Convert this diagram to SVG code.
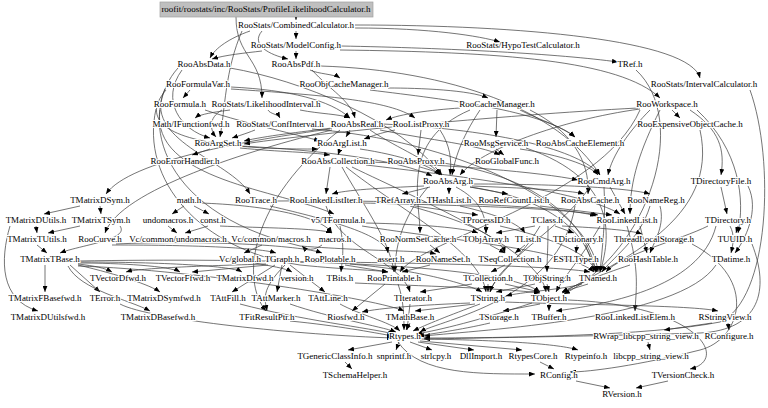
<svg xmlns="http://www.w3.org/2000/svg" width="768" height="408" viewBox="0 0 768 408">
<style>
.e{fill:none;stroke:#3a3a3a;stroke-width:0.7;marker-end:url(#ah)}
text{font-family:"Liberation Serif","Times New Roman",serif;font-size:9px;text-anchor:middle;fill:#000;paint-order:stroke;stroke:#fff;stroke-width:2.2px;stroke-linejoin:round}
#root text{stroke:none}
</style>
<defs>
<marker id="ah" viewBox="0 0 10 8" refX="10" refY="4" markerWidth="6" markerHeight="5" markerUnits="userSpaceOnUse" orient="auto"><path d="M0,0 L10,4 L0,8 z" fill="#000"/></marker>
</defs>
<rect width="768" height="408" fill="#fff"/>
<g id="edges">
<path class="e" d="M296,17 L296,20"/>
<path class="e" d="M236,17 C236,57 262,57 262,98"/>
<path class="e" d="M296,31 L296,39"/>
<path class="e" d="M355,28 C430,28 480,36 500,42"/>
<path class="e" d="M355,25 C520,25 690,40 700,78"/>
<path class="e" d="M262,31 C250,45 270,55 288,59"/>
<path class="e" d="M250,31 C230,38 215,48 210,58"/>
<path class="e" d="M242,31 C225,70 225,110 220,137"/>
<path class="e" d="M262,51 C245,53 225,55 212,59"/>
<path class="e" d="M296,51 L296,59"/>
<path class="e" d="M340,50 C500,52 620,60 660,98"/>
<path class="e" d="M340,46 C450,48 560,54 618,62"/>
<path class="e" d="M312,70 C330,90 350,100 355,118"/>
<path class="e" d="M310,70 C318,74 334,74 340,78"/>
<path class="e" d="M320,66 C450,70 560,110 600,175"/>
<path class="e" d="M230,68 C300,80 400,120 442,175"/>
<path class="e" d="M178,68 C140,110 150,210 300,246 C380,252 420,250 436,254"/>
<path class="e" d="M182,70 C160,100 180,130 210,138"/>
<path class="e" d="M268,110 C270,114 278,114 280,118"/>
<path class="e" d="M230,110 C215,112 200,114 195,118"/>
<path class="e" d="M300,110 C320,114 340,114 350,118"/>
<path class="e" d="M222,110 C208,118 210,130 216,137"/>
<path class="e" d="M255,130 C245,134 238,136 232,138"/>
<path class="e" d="M312,129 C450,140 590,200 598,272"/>
<path class="e" d="M750,90 C775,160 770,300 720,322 C650,336 500,338 424,338"/>
<path class="e" d="M388,88 C420,88 470,90 488,98"/>
<path class="e" d="M370,90 C450,100 540,110 575,137"/>
<path class="e" d="M497,110 L496,137"/>
<path class="e" d="M470,110 C400,140 420,200 420,233"/>
<path class="e" d="M460,108 C430,110 400,114 386,120"/>
<path class="e" d="M530,110 C570,130 590,160 588,194"/>
<path class="e" d="M520,110 C540,120 565,128 575,137"/>
<path class="e" d="M480,110 C460,140 455,160 452,175"/>
<path class="e" d="M370,130 C400,150 430,160 440,175"/>
<path class="e" d="M383,124 C500,130 580,150 600,175"/>
<path class="e" d="M332,130 C250,150 120,190 105,233"/>
<path class="e" d="M332,128 C300,132 265,136 244,141"/>
<path class="e" d="M350,130 L346,137"/>
<path class="e" d="M380,130 C430,140 480,145 500,155"/>
<path class="e" d="M330,129 C250,140 130,160 106,194"/>
<path class="e" d="M340,130 C250,200 240,280 266,311"/>
<path class="e" d="M231,87 C290,90 330,100 350,118"/>
<path class="e" d="M190,90 L183,98"/>
<path class="e" d="M166,90 C140,120 160,150 318,149"/>
<path class="e" d="M165,89 C140,140 230,160 250,194"/>
<path class="e" d="M231,89 C320,95 390,100 415,118"/>
<path class="e" d="M156,109 C140,180 200,250 300,265 C350,270 375,270 388,272"/>
<path class="e" d="M205,110 C250,125 300,135 320,141"/>
<path class="e" d="M160,110 C150,180 280,190 334,214"/>
<path class="e" d="M640,110 C600,200 420,240 400,272"/>
<path class="e" d="M638,108 C500,115 300,135 244,144"/>
<path class="e" d="M660,110 C640,150 630,180 630,214"/>
<path class="e" d="M650,110 C630,130 612,155 608,175"/>
<path class="e" d="M672,110 L680,118"/>
<path class="e" d="M697,110 C740,150 745,200 738,233"/>
<path class="e" d="M690,110 C720,130 725,150 721,175"/>
<path class="e" d="M640,109 C560,120 480,150 460,175"/>
<path class="e" d="M700,130 C720,220 620,260 562,293"/>
<path class="e" d="M636,70 C690,120 650,250 564,294"/>
<path class="e" d="M395,130 C380,133 372,136 364,139"/>
<path class="e" d="M421,130 L418,155"/>
<path class="e" d="M440,130 C450,145 452,160 450,175"/>
<path class="e" d="M240,148 C280,152 310,152 330,155"/>
<path class="e" d="M210,149 L192,155"/>
<path class="e" d="M240,146 C320,150 400,160 432,176"/>
<path class="e" d="M340,149 L338,155"/>
<path class="e" d="M360,149 C400,155 430,165 440,175"/>
<path class="e" d="M330,167 L326,194"/>
<path class="e" d="M366,165 C450,175 580,190 620,214"/>
<path class="e" d="M342,167 C360,200 390,240 394,272"/>
<path class="e" d="M352,167 C420,200 540,250 546,292"/>
<path class="e" d="M346,167 C400,210 480,250 486,292"/>
<path class="e" d="M370,162 C450,165 540,172 578,180"/>
<path class="e" d="M520,149 C560,155 590,165 598,175"/>
<path class="e" d="M496,149 L504,155"/>
<path class="e" d="M526,148 C620,180 610,240 600,272"/>
<path class="e" d="M420,167 C430,170 438,172 442,175"/>
<path class="e" d="M443,163 C560,180 590,240 596,272"/>
<path class="e" d="M470,187 C560,200 590,240 594,272"/>
<path class="e" d="M449,187 L449,194"/>
<path class="e" d="M430,187 L402,194"/>
<path class="e" d="M470,187 L508,194"/>
<path class="e" d="M472,186 C520,188 570,190 584,194"/>
<path class="e" d="M472,184 C560,184 630,188 650,194"/>
<path class="e" d="M428,187 C400,220 395,250 395,272"/>
<path class="e" d="M424,186 C380,188 345,190 332,194"/>
<path class="e" d="M456,187 C480,200 486,215 486,233"/>
<path class="e" d="M604,187 C606,220 602,250 600,272"/>
<path class="e" d="M590,187 C560,230 500,260 490,292"/>
<path class="e" d="M610,187 L625,214"/>
<path class="e" d="M721,187 L727,214"/>
<path class="e" d="M748,186 C760,210 745,240 735,253"/>
<path class="e" d="M100,206 L101,214"/>
<path class="e" d="M80,206 L44,214"/>
<path class="e" d="M120,226 C130,240 80,245 60,253"/>
<path class="e" d="M80,226 L48,233"/>
<path class="e" d="M36,226 L37,233"/>
<path class="e" d="M10,226 C0,260 0,300 38,311"/>
<path class="e" d="M37,245 L47,253"/>
<path class="e" d="M78,264 C95,266 105,268 112,272"/>
<path class="e" d="M78,263 C120,263 170,266 180,272"/>
<path class="e" d="M45,265 L45,292"/>
<path class="e" d="M70,265 L100,292"/>
<path class="e" d="M78,265 C120,275 150,285 160,292"/>
<path class="e" d="M68,266 C80,290 130,300 150,311"/>
<path class="e" d="M78,262 C150,262 230,265 242,272"/>
<path class="e" d="M78,266 C200,270 380,300 404,311"/>
<path class="e" d="M78,261 C250,258 500,262 540,292"/>
<path class="e" d="M184,206 L172,214"/>
<path class="e" d="M194,206 L209,214"/>
<path class="e" d="M200,203 C260,205 320,215 332,233"/>
<path class="e" d="M168,226 L177,233"/>
<path class="e" d="M220,226 C260,228 320,228 332,233"/>
<path class="e" d="M208,226 L185,233"/>
<path class="e" d="M322,245 C314,251 306,250 302,246"/>
<path class="e" d="M262,245 L244,253"/>
<path class="e" d="M255,263 C270,266 285,268 292,272"/>
<path class="e" d="M270,206 C330,220 385,235 388,253"/>
<path class="e" d="M277,201 C400,200 560,205 596,216"/>
<path class="e" d="M326,206 C340,250 400,260 410,292"/>
<path class="e" d="M362,203 C450,205 560,208 598,215"/>
<path class="e" d="M410,206 C460,220 500,235 505,253"/>
<path class="e" d="M415,206 L478,215"/>
<path class="e" d="M460,206 C500,215 520,225 525,233"/>
<path class="e" d="M540,206 L612,215"/>
<path class="e" d="M575,206 C560,300 440,320 420,332"/>
<path class="e" d="M650,206 C640,240 610,260 602,272"/>
<path class="e" d="M660,206 C665,225 655,240 650,253"/>
<path class="e" d="M112,245 C200,245 260,248 276,253"/>
<path class="e" d="M116,244 C200,240 300,245 322,253"/>
<path class="e" d="M298,262 C400,262 560,266 590,272"/>
<path class="e" d="M275,265 L232,292"/>
<path class="e" d="M282,265 L277,292"/>
<path class="e" d="M290,265 L325,292"/>
<path class="e" d="M268,265 L192,272"/>
<path class="e" d="M266,264 C200,266 140,268 126,272"/>
<path class="e" d="M285,265 C260,290 265,300 267,311"/>
<path class="e" d="M362,226 C450,240 570,250 594,272"/>
<path class="e" d="M340,226 C345,250 342,260 341,272"/>
<path class="e" d="M365,223 C420,224 465,228 478,233"/>
<path class="e" d="M500,226 C560,240 590,255 596,272"/>
<path class="e" d="M486,226 L486,233"/>
<path class="e" d="M555,226 L574,233"/>
<path class="e" d="M562,226 C600,228 630,230 642,234"/>
<path class="e" d="M535,226 L496,233"/>
<path class="e" d="M548,226 C548,250 547,260 547,272"/>
<path class="e" d="M540,226 C520,260 495,275 490,292"/>
<path class="e" d="M627,226 C640,270 636,290 635,311"/>
<path class="e" d="M640,226 L647,253"/>
<path class="e" d="M600,226 C580,260 565,275 556,292"/>
<path class="e" d="M708,226 C680,240 620,255 606,272"/>
<path class="e" d="M730,226 C735,235 733,245 731,253"/>
<path class="e" d="M738,226 L736,233"/>
<path class="e" d="M716,226 C700,290 600,305 556,311"/>
<path class="e" d="M430,245 L440,253"/>
<path class="e" d="M490,245 L505,253"/>
<path class="e" d="M525,245 L515,253"/>
<path class="e" d="M585,245 L597,272"/>
<path class="e" d="M577,245 L576,253"/>
<path class="e" d="M692,244 C760,280 740,340 700,350 C640,365 590,372 570,372"/>
<path class="e" d="M752,244 C770,290 760,330 700,333 C600,336 480,338 424,339"/>
<path class="e" d="M345,265 L388,272"/>
<path class="e" d="M350,264 C420,270 470,285 482,292"/>
<path class="e" d="M430,265 L402,272"/>
<path class="e" d="M505,265 L491,272"/>
<path class="e" d="M630,265 C600,275 575,285 562,292"/>
<path class="e" d="M716,265 C680,320 480,330 424,336"/>
<path class="e" d="M505,284 L540,292"/>
<path class="e" d="M472,284 L420,292"/>
<path class="e" d="M488,284 L488,292"/>
<path class="e" d="M547,284 L549,292"/>
<path class="e" d="M535,284 L496,292"/>
<path class="e" d="M588,284 L562,292"/>
<path class="e" d="M582,284 C560,290 520,292 506,296"/>
<path class="e" d="M385,284 L352,311"/>
<path class="e" d="M398,284 C404,300 404,320 404,330"/>
<path class="e" d="M355,283 C420,286 500,288 540,293"/>
<path class="e" d="M240,304 C300,320 370,328 394,334"/>
<path class="e" d="M290,304 C330,318 380,326 396,332"/>
<path class="e" d="M340,304 C360,315 390,322 400,331"/>
<path class="e" d="M410,304 L407,330"/>
<path class="e" d="M475,304 L415,311"/>
<path class="e" d="M470,303 C420,305 380,308 362,312"/>
<path class="e" d="M505,302 C580,305 690,305 718,311"/>
<path class="e" d="M480,304 C450,315 425,325 413,331"/>
<path class="e" d="M540,304 L503,311"/>
<path class="e" d="M549,304 L549,311"/>
<path class="e" d="M532,303 C480,320 440,330 416,334"/>
<path class="e" d="M568,300 C700,305 730,360 690,369"/>
<path class="e" d="M490,323 C460,330 430,334 418,336"/>
<path class="e" d="M410,323 L406,330"/>
<path class="e" d="M290,321 C340,326 370,332 393,336"/>
<path class="e" d="M120,304 C150,320 300,335 393,338"/>
<path class="e" d="M712,323 L664,330"/>
<path class="e" d="M728,323 L729,330"/>
<path class="e" d="M648,342 L650,350"/>
<path class="e" d="M392,342 L348,350"/>
<path class="e" d="M399,342 L396,350"/>
<path class="e" d="M410,342 L432,350"/>
<path class="e" d="M418,342 L474,350"/>
<path class="e" d="M420,341 L522,350"/>
<path class="e" d="M420,339 C500,340 560,344 578,350"/>
<path class="e" d="M398,342 C420,375 480,374 535,374"/>
<path class="e" d="M345,362 L352,369"/>
<path class="e" d="M540,362 L554,369"/>
<path class="e" d="M576,381 L610,388"/>
<path class="e" d="M668,381 L636,388"/>
</g>
<g id="root"><rect x="160" y="2" width="213" height="15" fill="#bfbfbf" stroke="#a0a0a0" stroke-width="0.7"/><text x="266" y="12">roofit/roostats/inc/RooStats/ProfileLikelihoodCalculator.h</text></g>
<g id="cc"><text x="296" y="28">RooStats/CombinedCalculator.h</text></g>
<g id="mc"><text x="296" y="48">RooStats/ModelConfig.h</text></g>
<g id="htc"><text x="523" y="48">RooStats/HypoTestCalculator.h</text></g>
<g id="tref"><text x="630" y="67">TRef.h</text></g>
<g id="rad"><text x="204" y="67">RooAbsData.h</text></g>
<g id="rap"><text x="296" y="67">RooAbsPdf.h</text></g>
<g id="ic"><text x="704" y="87">RooStats/IntervalCalculator.h</text></g>
<g id="rfv"><text x="198" y="87">RooFormulaVar.h</text></g>
<g id="rocm"><text x="344" y="87">RooObjCacheManager.h</text></g>
<g id="rws"><text x="667" y="107">RooWorkspace.h</text></g>
<g id="rf"><text x="180" y="107">RooFormula.h</text></g>
<g id="li"><text x="266" y="107">RooStats/LikelihoodInterval.h</text></g>
<g id="rcm"><text x="497" y="107">RooCacheManager.h</text></g>
<g id="ifw"><text x="191" y="127">Math/IFunctionfwd.h</text></g>
<g id="ci"><text x="280" y="127">RooStats/ConfInterval.h</text></g>
<g id="rar"><text x="357" y="127">RooAbsReal.h</text></g>
<g id="rlp"><text x="421" y="127">RooListProxy.h</text></g>
<g id="reoc"><text x="690" y="127">RooExpensiveObjectCache.h</text></g>
<g id="ras"><text x="218" y="146">RooArgSet.h</text></g>
<g id="ral"><text x="342" y="146">RooArgList.h</text></g>
<g id="rms"><text x="496" y="146">RooMsgService.h</text></g>
<g id="race"><text x="580" y="146">RooAbsCacheElement.h</text></g>
<g id="reh"><text x="185" y="164">RooErrorHandler.h</text></g>
<g id="rac"><text x="338" y="164">RooAbsCollection.h</text></g>
<g id="rapx"><text x="416" y="164">RooAbsProxy.h</text></g>
<g id="rgf"><text x="507" y="164">RooGlobalFunc.h</text></g>
<g id="raa"><text x="448" y="184">RooAbsArg.h</text></g>
<g id="rca"><text x="604" y="184">RooCmdArg.h</text></g>
<g id="tdf"><text x="721" y="184">TDirectoryFile.h</text></g>
<g id="tmds"><text x="100" y="203">TMatrixDSym.h</text></g>
<g id="math"><text x="189" y="203">math.h</text></g>
<g id="rtr"><text x="256" y="203">RooTrace.h</text></g>
<g id="rlli"><text x="326" y="203">RooLinkedListIter.h</text></g>
<g id="tra"><text x="398" y="203">TRefArray.h</text></g>
<g id="thl"><text x="449" y="203">THashList.h</text></g>
<g id="rrcl"><text x="514" y="203">RooRefCountList.h</text></g>
<g id="rach"><text x="590" y="203">RooAbsCache.h</text></g>
<g id="rnr"><text x="656" y="203">RooNameReg.h</text></g>
<g id="tmdu"><text x="36" y="223">TMatrixDUtils.h</text></g>
<g id="tmts"><text x="101" y="223">TMatrixTSym.h</text></g>
<g id="undo"><text x="168" y="223">undomacros.h</text></g>
<g id="const"><text x="213" y="223">const.h</text></g>
<g id="tf"><text x="338" y="223">v5/TFormula.h</text></g>
<g id="tpid"><text x="486" y="223">TProcessID.h</text></g>
<g id="tcl"><text x="547" y="223">TClass.h</text></g>
<g id="rll"><text x="627" y="223">RooLinkedList.h</text></g>
<g id="tdir"><text x="728" y="223">TDirectory.h</text></g>
<g id="tmtu"><text x="37" y="242">TMatrixTUtils.h</text></g>
<g id="rcu"><text x="100" y="242">RooCurve.h</text></g>
<g id="vcu"><text x="178" y="242">Vc/common/undomacros.h</text></g>
<g id="vcm"><text x="271" y="242">Vc/common/macros.h</text></g>
<g id="mac"><text x="335" y="242">macros.h</text></g>
<g id="rnsc"><text x="418" y="242">RooNormSetCache.h</text></g>
<g id="toa"><text x="486" y="242">TObjArray.h</text></g>
<g id="tli"><text x="528" y="242">TList.h</text></g>
<g id="tdic"><text x="578" y="242">TDictionary.h</text></g>
<g id="tls"><text x="654" y="242">ThreadLocalStorage.h</text></g>
<g id="tuuid"><text x="735" y="242">TUUID.h</text></g>
<g id="tmtb"><text x="50" y="262">TMatrixTBase.h</text></g>
<g id="vcg"><text x="240" y="262">Vc/global.h</text></g>
<g id="tgr"><text x="282" y="262">TGraph.h</text></g>
<g id="rpl"><text x="330" y="262">RooPlotable.h</text></g>
<g id="asrt"><text x="391" y="262">assert.h</text></g>
<g id="rns"><text x="443" y="262">RooNameSet.h</text></g>
<g id="tsc"><text x="510" y="262">TSeqCollection.h</text></g>
<g id="estl"><text x="576" y="262">ESTLType.h</text></g>
<g id="rht"><text x="648" y="262">RooHashTable.h</text></g>
<g id="tdt"><text x="731" y="262">TDatime.h</text></g>
<g id="tvd"><text x="118" y="281">TVectorDfwd.h</text></g>
<g id="tvf"><text x="183" y="281">TVectorFfwd.h</text></g>
<g id="tmdf"><text x="245" y="281">TMatrixDfwd.h</text></g>
<g id="ver"><text x="297" y="281">version.h</text></g>
<g id="tbits"><text x="340" y="281">TBits.h</text></g>
<g id="rpr"><text x="394" y="281">RooPrintable.h</text></g>
<g id="tcoll"><text x="488" y="281">TCollection.h</text></g>
<g id="tos"><text x="547" y="281">TObjString.h</text></g>
<g id="tnm"><text x="598" y="281">TNamed.h</text></g>
<g id="tmfb"><text x="45" y="301">TMatrixFBasefwd.h</text></g>
<g id="terr"><text x="105" y="301">TError.h</text></g>
<g id="tmdsf"><text x="164" y="301">TMatrixDSymfwd.h</text></g>
<g id="taf"><text x="228" y="301">TAttFill.h</text></g>
<g id="tam"><text x="276" y="301">TAttMarker.h</text></g>
<g id="tal"><text x="328" y="301">TAttLine.h</text></g>
<g id="tit"><text x="413" y="301">TIterator.h</text></g>
<g id="tstr"><text x="488" y="301">TString.h</text></g>
<g id="tobj"><text x="549" y="301">TObject.h</text></g>
<g id="tmduf"><text x="48" y="320">TMatrixDUtilsfwd.h</text></g>
<g id="tmdbf"><text x="158" y="320">TMatrixDBasefwd.h</text></g>
<g id="tfrp"><text x="267" y="320">TFitResultPtr.h</text></g>
<g id="rios"><text x="346" y="320">Riosfwd.h</text></g>
<g id="tmb"><text x="410" y="320">TMathBase.h</text></g>
<g id="tsto"><text x="499" y="320">TStorage.h</text></g>
<g id="tbuf"><text x="549" y="320">TBuffer.h</text></g>
<g id="rlle"><text x="635" y="320">RooLinkedListElem.h</text></g>
<g id="rsv"><text x="725" y="320">RStringView.h</text></g>
<g id="rt"><text x="405" y="339">Rtypes.h</text></g>
<g id="rw"><text x="646" y="339">RWrap_libcpp_string_view.h</text></g>
<g id="rcfg"><text x="729" y="339">RConfigure.h</text></g>
<g id="tgci"><text x="335" y="359">TGenericClassInfo.h</text></g>
<g id="snp"><text x="394" y="359">snprintf.h</text></g>
<g id="strl"><text x="436" y="359">strlcpy.h</text></g>
<g id="dll"><text x="481" y="359">DllImport.h</text></g>
<g id="rtc"><text x="533" y="359">RtypesCore.h</text></g>
<g id="rti"><text x="586" y="359">Rtypeinfo.h</text></g>
<g id="lsv"><text x="651" y="359">libcpp_string_view.h</text></g>
<g id="tsh"><text x="355" y="378">TSchemaHelper.h</text></g>
<g id="rcf"><text x="559" y="378">RConfig.h</text></g>
<g id="tvc"><text x="683" y="378">TVersionCheck.h</text></g>
<g id="rv"><text x="622" y="397">RVersion.h</text></g>
</svg>
